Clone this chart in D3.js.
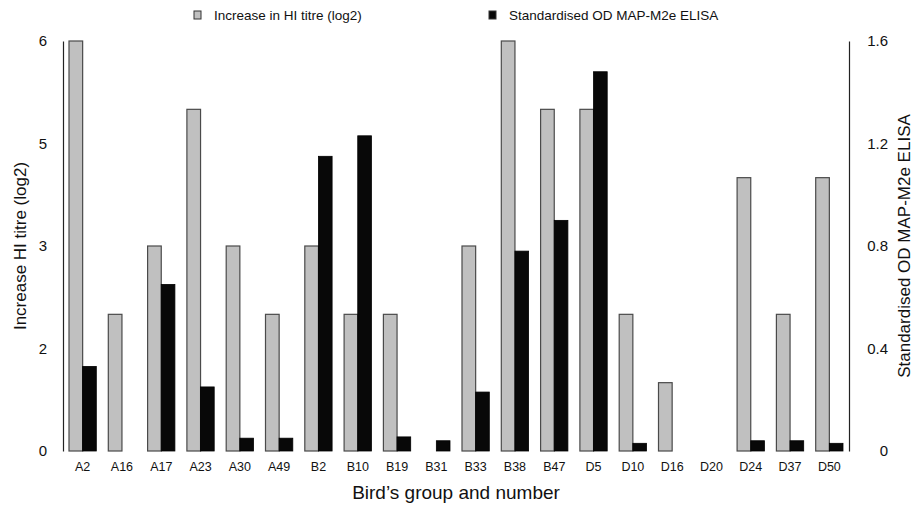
<!DOCTYPE html>
<html>
<head>
<meta charset="utf-8">
<script src="https://cdn.jsdelivr.net/npm/d3@7"></script>
<style>
    body { margin: 0; background: #fff; }
    #chart1 { width: 916px; height: 506px; }
    text { font-family: "Liberation Sans", Arial, Helvetica, sans-serif; fill: #111; }
    .axis path { stroke: #222; stroke-width: 1.2; }
    .axis .tick line { display: none; }
</style>
</head>
<body>
<div id="chart1"></div>
<script>

var birds = ["A2", "A16", "A17", "A23", "A30", "A49", "B2", "B10", "B19", "B31",
    "B33", "B38", "B47", "D5", "D10", "D16", "D20", "D24", "D37", "D50"];

// increase in HI titre (log2), left axis
var hiTitre = [6, 2, 3, 5, 3, 2, 3, 2, 2, 0,
    3, 6, 5, 5, 2, 1, 0, 4, 2, 4];

// standardised OD MAP-M2e ELISA, right axis
var odElisa = [0.33, 0, 0.65, 0.25, 0.05, 0.05, 1.15, 1.23, 0.055, 0.04,
    0.23, 0.78, 0.9, 1.48, 0.03, 0, 0, 0.04, 0.04, 0.03];

var leftTicks = [0, 1.5, 3, 4.5, 6];
var rightTicks = [0, 0.4, 0.8, 1.2, 1.6];

var seriesNames = ["Increase in HI titre (log2)", "Standardised OD MAP-M2e ELISA"];

var width = document.querySelector("#chart1").clientWidth;
var height = document.querySelector("#chart1").clientHeight;

var margin = {top: 41, right: 67, bottom: 55, left: 63};

var svg = d3.select("#chart1")
    .append("svg")
    .attr("width", width)
    .attr("height", height);

var xScale = d3.scaleBand()
    .domain(birds)
    .range([margin.left, width - margin.right])
    .padding(0);

var subScale = d3.scaleBand()
    .domain(["hi", "od"])
    .range([6, xScale.bandwidth() - 6]);

var yLeft = d3.scaleLinear()
    .domain([0, 6])
    .range([height - margin.bottom, margin.top]);

var yRight = d3.scaleLinear()
    .domain([0, 1.6])
    .range([height - margin.bottom, margin.top]);

var data = birds.map(function(b, i) {
    return {bird: b, hi: hiTitre[i], od: odElisa[i]};
});

// grey bars
svg.selectAll(".hiBar")
    .data(data.filter(function(d) { return d.hi > 0; }))
    .enter()
    .append("rect")
        .attr("class", "hiBar")
        .attr("x", function(d) { return xScale(d.bird) + subScale("hi"); })
        .attr("y", function(d) { return yLeft(d.hi); })
        .attr("width", subScale.bandwidth())
        .attr("height", function(d) { return yLeft(0) - yLeft(d.hi); })
        .attr("fill", "#c0c0c0")
        .attr("stroke", "#4a4a4a")
        .attr("stroke-width", 1.2);

// black bars
svg.selectAll(".odBar")
    .data(data.filter(function(d) { return d.od > 0; }))
    .enter()
    .append("rect")
        .attr("class", "odBar")
        .attr("x", function(d) { return xScale(d.bird) + subScale("od"); })
        .attr("y", function(d) { return yRight(d.od); })
        .attr("width", subScale.bandwidth())
        .attr("height", function(d) { return yRight(0) - yRight(d.od); })
        .attr("fill", "#080808")
        .attr("stroke", "#000")
        .attr("stroke-width", 0.8);

// axes
var leftAxis = svg.append("g")
    .attr("class", "axis")
    .attr("transform", "translate(" + margin.left + ",0)")
    .call(d3.axisLeft(yLeft).tickValues(leftTicks).tickFormat(d3.format(".0f")).tickSize(0).tickSizeOuter(0).tickPadding(16));

var rightAxis = svg.append("g")
    .attr("class", "axis")
    .attr("transform", "translate(" + (width - margin.right) + ",0)")
    .call(d3.axisRight(yRight).tickValues(rightTicks).tickFormat(function(d) { return d === 0 ? "0" : d3.format(".1f")(d); }).tickSize(0).tickSizeOuter(0).tickPadding(39));

rightAxis.selectAll("text").attr("text-anchor", "end");

svg.selectAll(".axis text")
    .style("font-size", "15px")
    .style("font-family", "'Liberation Sans', Arial, sans-serif")
    .attr("fill", "#111");

// category labels, no axis line at bottom
svg.selectAll(".birdLabel")
    .data(birds)
    .enter()
    .append("text")
        .attr("class", "birdLabel")
        .attr("x", function(d) { return xScale(d) + xScale.bandwidth() / 2; })
        .attr("y", height - margin.bottom + 20)
        .attr("text-anchor", "middle")
        .style("font-size", "12.5px")
        .text(function(d) { return d; });

// axis titles
svg.append("text")
    .attr("x", (margin.left + width - margin.right) / 2)
    .attr("y", height - 7)
    .attr("text-anchor", "middle")
    .style("font-size", "19px")
    .text("Bird\u2019s group and number");

svg.append("text")
    .attr("transform", "translate(26," + 246 + ") rotate(-90)")
    .attr("text-anchor", "middle")
    .style("font-size", "17px")
    .text("Increase HI titre (log2)");

svg.append("text")
    .attr("transform", "translate(910," + 246 + ") rotate(-90)")
    .attr("text-anchor", "middle")
    .style("font-size", "17px")
    .text("Standardised OD MAP-M2e ELISA");

// legend
var legendX = [194, 489];
var legendFill = ["#c0c0c0", "#080808"];

var legend = svg.selectAll(".legend")
    .data(seriesNames)
    .enter()
    .append("g")
        .attr("class", "legend")
        .attr("transform", function(d, i) { return "translate(" + legendX[i] + ",11)"; });

legend.append("rect")
    .attr("width", 7)
    .attr("height", 8)
    .attr("fill", function(d, i) { return legendFill[i]; })
    .attr("stroke", "#333")
    .attr("stroke-width", 1);

legend.append("text")
    .attr("x", 20)
    .attr("y", 9)
    .style("font-size", "13.5px")
    .text(function(d) { return d; });

</script>
</body>
</html>
